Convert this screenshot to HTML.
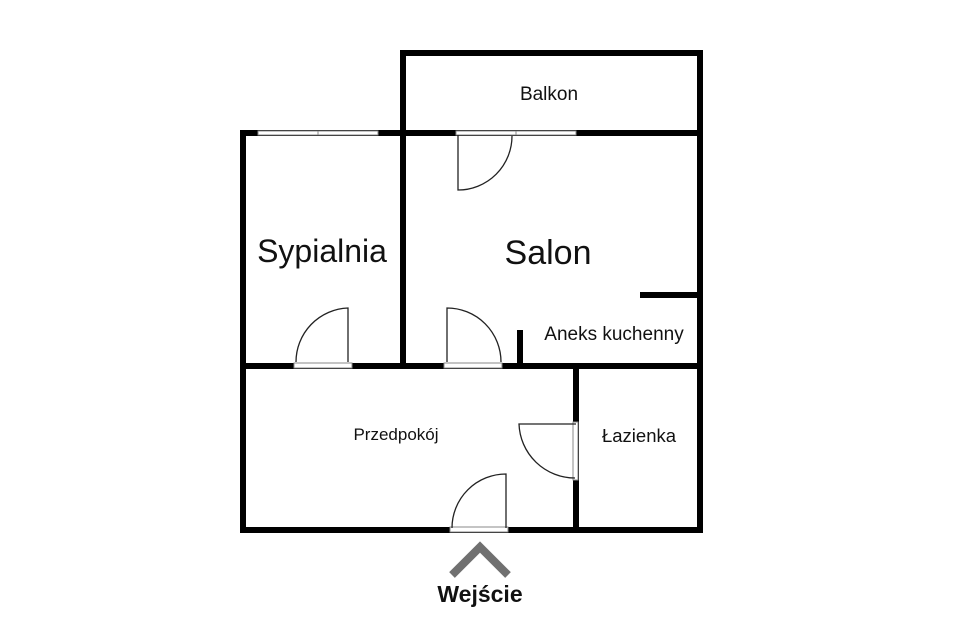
<!DOCTYPE html>
<html><head><meta charset="utf-8"><style>
html,body{margin:0;padding:0;background:#fff;}
svg{display:block}
text{font-family:"Liberation Sans",sans-serif;fill:#111;}
</style></head><body>
<svg width="961" height="628" viewBox="0 0 961 628" xmlns="http://www.w3.org/2000/svg">
<g stroke="#000" stroke-width="6" fill="none" stroke-linecap="square">
<polyline points="403,366 403,53 700,53 700,530"/>
<line x1="243" y1="133" x2="700" y2="133"/>
<line x1="243" y1="133" x2="243" y2="530"/>
<line x1="243" y1="530" x2="700" y2="530"/>
<line x1="243" y1="366" x2="700" y2="366"/>
<line x1="576" y1="366" x2="576" y2="530"/>
<line x1="643" y1="295" x2="700" y2="295"/>
<line x1="520" y1="333" x2="520" y2="366"/>
</g>
<g fill="#fff" stroke="#888" stroke-width="1">
<rect x="258" y="131" width="120" height="4"/>
<line x1="318" y1="131" x2="318" y2="135"/>
<rect x="456" y="131" width="120" height="4"/>
<line x1="516" y1="131" x2="516" y2="135"/>
<rect x="294" y="363" width="58" height="5"/>
<rect x="444" y="363" width="58" height="5"/>
<rect x="450" y="527" width="58" height="5"/>
<rect x="573" y="422" width="5" height="58"/>
</g>
<g fill="none" stroke="#222" stroke-width="1.3">
<path d="M458,135 L458,190 A54,54 0 0 0 512,136"/>
<path d="M348,362 L348,308 A54,54 0 0 0 296,362"/>
<path d="M447,362 L447,308 A54,54 0 0 1 501,362"/>
<path d="M576,424 L519,424 A56,56 0 0 0 575,478"/>
<path d="M506,528 L506,474 A54,54 0 0 0 452,528"/>
</g>
<polyline points="452,575 480,547 508,575" fill="none" stroke="#707070" stroke-width="8"/>
<text x="549" y="100" font-size="19" text-anchor="middle">Balkon</text>
<text x="322" y="262" font-size="32" text-anchor="middle">Sypialnia</text>
<text x="548" y="264" font-size="34" text-anchor="middle">Salon</text>
<text x="614" y="340" font-size="19" text-anchor="middle">Aneks kuchenny</text>
<text x="396" y="440" font-size="17" text-anchor="middle">Przedpokój</text>
<text x="639" y="442" font-size="18.5" text-anchor="middle">Łazienka</text>
<text x="480" y="602" font-size="23" font-weight="bold" text-anchor="middle">Wejście</text>
</svg>
</body></html>
